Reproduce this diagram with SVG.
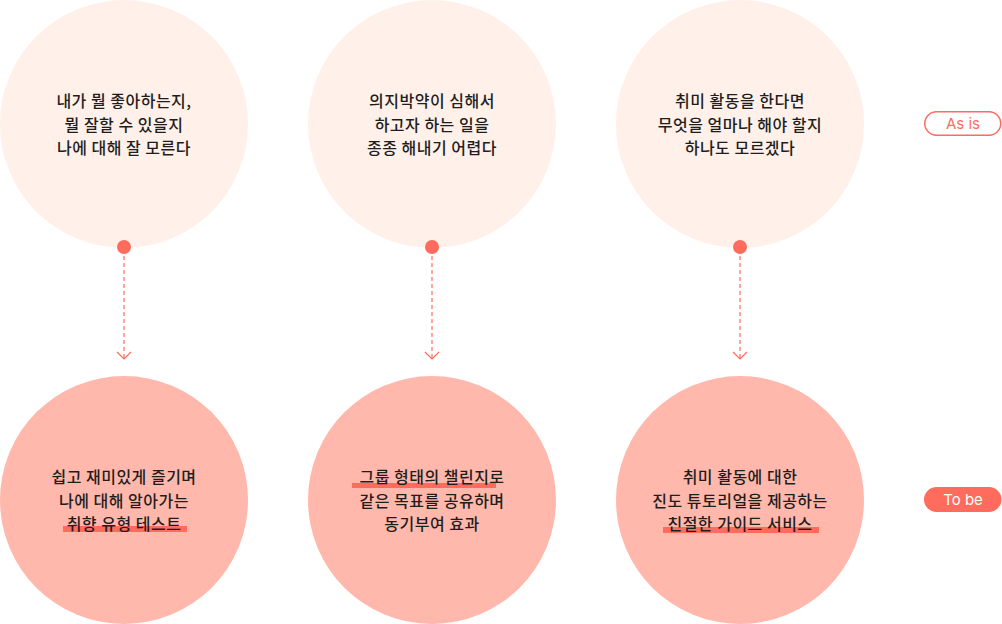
<svg xmlns="http://www.w3.org/2000/svg" width="1002" height="624" viewBox="0 0 1002 624">
<defs>
<style>
.asis{fill:#FFF1EA}
.tobe{fill:#FFB8AB}
.dot{fill:#FF6B5C}
.t{font-family:"Noto Sans CJK KR","Noto Sans",sans-serif;font-size:16px;font-weight:500;fill:#1E1E1E;text-anchor:middle;letter-spacing:0.5px}
.ul{fill:#FF6B5C}
.conn{stroke:#FF6B5C;stroke-width:1.2;fill:none}
.dash{stroke-dasharray:4 3}
.badge{font-family:Inter,"Noto Sans",sans-serif;font-size:15px;text-anchor:middle}
</style>
</defs>
<rect width="1002" height="624" fill="#FFFFFF"/>
<g id="asis-1"><circle class="asis" cx="124" cy="124" r="124"/>
<text class="t"><tspan x="124" y="107">내가 뭘 좋아하는지,</tspan><tspan x="124" y="130.5">뭘 잘할 수 있을지</tspan><tspan x="124" y="154">나에 대해 잘 모른다</tspan></text></g>
<g id="asis-2"><circle class="asis" cx="432" cy="124" r="124"/>
<text class="t"><tspan x="432" y="107">의지박약이 심해서</tspan><tspan x="432" y="130.5">하고자 하는 일을</tspan><tspan x="432" y="154">종종 해내기 어렵다</tspan></text></g>
<g id="asis-3"><circle class="asis" cx="740" cy="124" r="124"/>
<text class="t"><tspan x="740" y="107">취미 활동을 한다면</tspan><tspan x="740" y="130.5">무엇을 얼마나 해야 할지</tspan><tspan x="740" y="154">하나도 모르겠다</tspan></text></g>
<g id="tobe-1"><circle class="tobe" cx="124" cy="500" r="124"/>
<rect class="ul" x="63" y="526" width="124" height="6"/>
<text class="t"><tspan x="124" y="483">쉽고 재미있게 즐기며</tspan><tspan x="124" y="506.5">나에 대해 알아가는</tspan><tspan x="124" y="530">취향 유형 테스트</tspan></text></g>
<g id="tobe-2"><circle class="tobe" cx="432" cy="500" r="124"/>
<rect class="ul" x="352" y="483" width="144" height="5"/>
<text class="t"><tspan x="432" y="483">그룹 형태의 챌린지로</tspan><tspan x="432" y="506.5">같은 목표를 공유하며</tspan><tspan x="432" y="530">동기부여 효과</tspan></text></g>
<g id="tobe-3"><circle class="tobe" cx="740" cy="500" r="124"/>
<rect class="ul" x="663" y="527" width="156" height="6"/>
<text class="t"><tspan x="740" y="483">취미 활동에 대한</tspan><tspan x="740" y="506.5">진도 튜토리얼을 제공하는</tspan><tspan x="740" y="530">친절한 가이드 서비스</tspan></text></g>
<g id="connectors">
<circle class="dot" cx="124" cy="247" r="7"/>
<circle class="dot" cx="432" cy="247" r="7"/>
<circle class="dot" cx="740" cy="247" r="7"/>
<path class="conn dash" d="M124 256V358M432 256V358M740 256V358"/>
<path class="conn" d="M117 352L124 359L131 352M425 352L432 359L439 352M733 352L740 359L747 352"/>
</g>
<g id="badge-asis"><rect x="924.75" y="111.75" width="76" height="23.5" rx="11.75" fill="#FFFFFF" stroke="#FF6B5C" stroke-width="1.5"/>
<text class="badge" x="963" y="129" fill="#FF6B5C">As is</text></g>
<g id="badge-tobe"><rect x="924" y="487" width="77.5" height="25" rx="12.5" fill="#FF6B5C"/>
<text class="badge" x="963" y="505" fill="#FFFFFF">To be</text></g>
</svg>
